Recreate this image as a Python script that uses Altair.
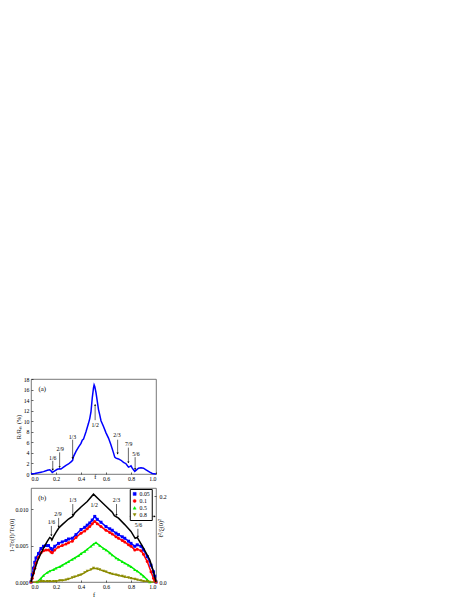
import altair as alt
import pandas as pd

FONT = "Liberation Serif"

# ---------------- Panel (a) data ----------------
a_f = [0.00, 0.03, 0.05, 0.08, 0.10, 0.12, 0.13, 0.15, 0.16, 0.17, 0.18, 0.19, 0.21, 0.23, 0.24,
       0.26, 0.28, 0.30, 0.32, 0.333, 0.34, 0.36, 0.38, 0.40, 0.41, 0.42, 0.44, 0.46, 0.47, 0.48,
       0.49, 0.50, 0.505, 0.51, 0.52, 0.53, 0.54, 0.55, 0.56, 0.58, 0.60, 0.62, 0.64, 0.66, 0.67,
       0.68, 0.70, 0.72, 0.74, 0.76, 0.78, 0.79, 0.80, 0.81, 0.82, 0.83, 0.84, 0.86, 0.88, 0.90,
       0.92, 0.95, 0.97, 1.00]
a_r = [0.05, 0.1, 0.2, 0.35, 0.45, 0.6, 0.7, 0.8, 0.6, 0.3, 0.45, 0.6, 0.9, 1.0, 0.95,
       1.3, 1.65, 1.9, 2.3, 2.6, 3.3, 4.3, 5.1, 5.8, 6.4, 6.6, 8.0, 9.6, 10.5, 11.8,
       14.4, 16.3, 16.9, 16.6, 15.4, 13.8, 12.2, 11.2, 10.1, 9.0, 7.8, 6.8, 5.5, 4.0, 3.2,
       3.0, 2.85, 2.6, 2.2, 1.95, 1.3, 1.4, 1.55, 1.1, 0.8, 0.5, 0.7, 1.1, 1.2, 1.1,
       0.8, 0.35, 0.1, 0.0]

a_lab = ["1/6", "2/9", "1/3", "1/2", "2/3", "7/9", "5/6"]
a_lab_f = [0.174, 0.234, 0.331, 0.513, 0.688, 0.781, 0.839]
a_lab_y = [3.0, 4.7, 7.1, 9.3, 7.3, 5.6, 3.8]
a_arr_f = [0.174, 0.229, 0.333, 0.513, 0.693, 0.779, 0.833]
a_arr_from = [2.5, 4.1, 6.5, 10.2, 6.5, 5.0, 3.2]
a_arr_to = [0.8, 1.3, 3.0, 13.1, 3.9, 2.2, 0.9]
a_arr_head = ["triangle-down"] * 3 + ["triangle-up"] + ["triangle-down"] * 3

# ---------------- Panel (b) data ----------------
b_f_black = [0.0, 0.01, 0.02, 0.05, 0.08, 0.10, 0.13, 0.15, 0.16, 0.167, 0.18, 0.20, 0.222, 0.25,
             0.30, 0.333, 0.35, 0.40, 0.45, 0.50, 0.55, 0.60, 0.65, 0.667, 0.70, 0.75, 0.80,
             0.833, 0.85, 0.90, 0.95, 0.98, 1.0]
b_black = [0.0, 0.012, 0.020, 0.048, 0.067, 0.079, 0.095, 0.104, 0.102, 0.098, 0.106, 0.116, 0.126,
           0.134, 0.147, 0.153, 0.161, 0.175, 0.188, 0.205, 0.191, 0.177, 0.163, 0.155, 0.149,
           0.134, 0.118, 0.102, 0.104, 0.079, 0.052, 0.024, 0.0]

b_f = [0.0, 0.01, 0.02, 0.03, 0.04, 0.06, 0.08, 0.10, 0.12, 0.14, 0.16, 0.17, 0.19, 0.22, 0.25,
       0.28, 0.30, 0.33, 0.36, 0.40, 0.43, 0.45, 0.47, 0.49, 0.51, 0.53, 0.56, 0.60, 0.63, 0.65,
       0.68, 0.70, 0.73, 0.75, 0.78, 0.80, 0.83, 0.85, 0.88, 0.90, 0.93, 0.96, 0.98, 0.99, 1.0]
b_005 = [0.0, 0.0010, 0.0019, 0.0027, 0.0033, 0.0039, 0.0046, 0.0049, 0.0050, 0.0050, 0.0046,
         0.0044, 0.0049, 0.0053, 0.0055, 0.0057, 0.0059, 0.0060, 0.0065, 0.0072, 0.0075, 0.0078,
         0.0081, 0.0085, 0.0090, 0.0086, 0.0082, 0.0076, 0.0073, 0.0071, 0.0067, 0.0065, 0.0062,
         0.0060, 0.0056, 0.0053, 0.0049, 0.0051, 0.0049, 0.0044, 0.0035, 0.0023, 0.0014, 0.0008, 0.0]
b_01 = [0.0, 0.0005, 0.0012, 0.0019, 0.0026, 0.0034, 0.0040, 0.0043, 0.0044, 0.0044, 0.0041,
        0.0040, 0.0044, 0.0048, 0.0050, 0.0052, 0.0054, 0.0056, 0.0061, 0.0067, 0.0070, 0.0073,
        0.0076, 0.0080, 0.0083, 0.0080, 0.0076, 0.0071, 0.0068, 0.0066, 0.0062, 0.0060, 0.0057,
        0.0055, 0.0051, 0.0049, 0.0044, 0.0045, 0.0043, 0.0038, 0.0028, 0.0014, 0.0005, 0.0002, 0.0]

b_f_05 = [0.05, 0.08, 0.10, 0.13, 0.15, 0.18, 0.20, 0.23, 0.25, 0.28, 0.30, 0.33, 0.35, 0.38, 0.40,
          0.43, 0.45, 0.48, 0.50, 0.52, 0.55, 0.58, 0.60, 0.63, 0.65, 0.68, 0.70, 0.73, 0.75, 0.78,
          0.80, 0.83, 0.85, 0.88, 0.90, 0.93, 0.95]
b_05 = [0.0, 0.0005, 0.0009, 0.0013, 0.0015, 0.0017, 0.0019, 0.0021, 0.0023, 0.0026, 0.0028,
        0.0031, 0.0033, 0.0036, 0.0039, 0.0042, 0.0045, 0.0049, 0.0052, 0.0054, 0.0050, 0.0046,
        0.0044, 0.0040, 0.0037, 0.0033, 0.0031, 0.0028, 0.0026, 0.0023, 0.0021, 0.0017, 0.0015,
        0.0011, 0.0008, 0.0003, 0.0]

b_f_08 = [0.0, 0.05, 0.08, 0.10, 0.13, 0.15, 0.18, 0.20, 0.23, 0.25, 0.28, 0.30, 0.33, 0.35, 0.38,
          0.40, 0.43, 0.45, 0.48, 0.50, 0.53, 0.55, 0.58, 0.60, 0.63, 0.65, 0.68, 0.70, 0.73, 0.75,
          0.78, 0.80, 0.83, 0.85, 0.88, 0.90, 0.93, 0.95, 1.0]
b_08 = [0.0, 0.0, 0.0001, 0.0001, 0.0001, 0.0001, 0.0001, 0.0001, 0.0002, 0.0002, 0.0003, 0.0004,
        0.0006, 0.0007, 0.0009, 0.0010, 0.0013, 0.0015, 0.0017, 0.0019, 0.0018, 0.0017, 0.0015,
        0.0014, 0.0012, 0.0011, 0.0010, 0.0009, 0.0008, 0.0007, 0.0006, 0.0005, 0.0004, 0.0003,
        0.0002, 0.0001, 0.0001, 0.0, 0.0]

series_names = ["0.05", "0.1", "0.5", "0.8"]
series_colors = ["#0000ff", "#ff0000", "#00ee00", "#8b8b00"]
series_shapes = ["square", "circle", "triangle-up", "triangle-down"]

b_lab = ["1/6", "2/9", "1/3", "1/2", "2/3", "5/6"]
b_lab_f = [0.163, 0.216, 0.334, 0.505, 0.684, 0.86]
b_lab_y = [0.0082, 0.0093, 0.0112, 0.0106, 0.0112, 0.0078]
b_arr_f = [0.163, 0.221, 0.334, 0.684, 0.855]
b_arr_from = [0.0077, 0.0088, 0.0107, 0.0107, 0.0073]
b_arr_to = [0.0064, 0.0076, 0.0092, 0.0092, 0.0062]

# ---------------- frames ----------------
df_a = pd.DataFrame({"f": a_f, "r": a_r})
df_a_lab = pd.DataFrame({"f": a_lab_f, "y": a_lab_y, "t": a_lab})
df_a_arr = pd.DataFrame({"f": a_arr_f, "y1": a_arr_from, "y2": a_arr_to, "h": a_arr_head})

rows = []
for name, fs, vs in [("0.05", b_f, b_005), ("0.1", b_f, b_01), ("0.5", b_f_05, b_05), ("0.8", b_f_08, b_08)]:
    for f, v in zip(fs, vs):
        rows.append({"f": f, "v": v, "s": name})
df_b = pd.DataFrame(rows)
df_black = pd.DataFrame({"f": b_f_black, "v": b_black})
df_b_lab = pd.DataFrame({"f": b_lab_f, "y": b_lab_y, "t": b_lab})
df_b_arr = pd.DataFrame({"f": b_arr_f, "y1": b_arr_from, "y2": b_arr_to})

W = 125
HA = 95
HB = 94
GAP = 14
FS = 5.8
TFS = 6.4

xscale = alt.Scale(domain=[0, 1], nice=False)
xlabels = [round(i * 0.2, 1) for i in range(6)]

# ---------------- Panel (a) ----------------
ya = alt.Scale(domain=[0, 18], nice=False)
xa_axis = alt.Axis(values=xlabels, format=".1f", title="f", titleX=W * 0.51, titleY=1,
                   titleBaseline="top", domain=False, offset=-2, tickSize=2, labelPadding=1,
                   labelOverlap=False, labelFontSize=FS, titleFontSize=TFS,
                   titleFontWeight="normal", grid=False)
ya_axis = alt.Axis(values=list(range(0, 19, 2)), domain=False, offset=-2, tickSize=2, labelPadding=2,
                   labelOverlap=False, title="R/R\u2099 (%)", titlePadding=1.5, labelFontSize=FS,
                   titleFontSize=TFS, titleFontWeight="normal", grid=False)


def xa(field):
    return alt.X(field, scale=xscale, axis=xa_axis)


def ya_(field):
    return alt.Y(field, scale=ya, axis=ya_axis)


a_line = alt.Chart(df_a).mark_line(color="#0000ff", strokeWidth=1.5).encode(
    x=xa("f:Q"), y=ya_("r:Q"))
a_rule = alt.Chart(df_a_arr).mark_rule(color="black", strokeWidth=0.6).encode(
    x=xa("f:Q"), y=ya_("y1:Q"), y2="y2:Q")
a_head = alt.Chart(df_a_arr).mark_point(filled=True, color="black", size=5, opacity=1).encode(
    x=xa("f:Q"), y=ya_("y2:Q"), shape=alt.Shape("h:N", scale=None))
a_text = alt.Chart(df_a_lab).mark_text(fontSize=FS, font=FONT, color="black").encode(
    x=xa("f:Q"), y=ya_("y:Q"), text="t:N")
a_tag = alt.Chart(pd.DataFrame({"f": [0.09], "y": [16.1], "t": ["(a)"]})).mark_text(
    fontSize=6.8, font=FONT, color="black").encode(x=xa("f:Q"), y=ya_("y:Q"), text="t:N")

panel_a = alt.layer(a_line, a_rule, a_head, a_text, a_tag).properties(width=W, height=HA)

# ---------------- Panel (b) ----------------
yb = alt.Scale(domain=[0, 0.0129], nice=False)
yr = alt.Scale(domain=[0, 0.2195], nice=False)
xb_axis = alt.Axis(values=xlabels, format=".1f", title="f", domain=False, offset=-2,
                   tickSize=2, labelPadding=1, titlePadding=3, labelOverlap=False,
                   labelFontSize=FS, titleFontSize=TFS, titleFontWeight="normal", grid=False)
yb_axis = alt.Axis(values=[0, 0.005, 0.010], format=".3f", domain=False, offset=-2, tickSize=2,
                   labelPadding=3, labelOverlap=False, title="1-Tc(f)/Tc(0)", titlePadding=0.5,
                   labelFontSize=FS, titleFontSize=TFS, titleFontWeight="normal", grid=False)
yr_axis = alt.Axis(orient="right", values=[0, 0.2], format=".1f", domain=False, offset=-2,
                   tickSize=2, labelPadding=3, labelOverlap=False,
                   title="\u2113\u00b2/\u03be(0)\u00b2", titleAngle=270,
                   titleX=6, titleY=40, titleBaseline="middle", labelFontSize=FS,
                   titleFontSize=TFS, titleFontWeight="normal", grid=False)


def xb(field):
    return alt.X(field, scale=xscale, axis=xb_axis)


def yb_(field):
    return alt.Y(field, scale=yb, axis=yb_axis)


# legend coordinates are relative to the top-level group (panel a origin)
leg = alt.Legend(title=None, orient="none", legendX=W * 0.79, legendY=HA + GAP + 1,
                 strokeColor="black", fillColor="white", padding=2, rowPadding=0,
                 labelFontSize=FS, labelFont=FONT, symbolSize=9, symbolStrokeWidth=0.5,
                 labelOffset=2, labelOverlap=False)
cscale = alt.Scale(domain=series_names, range=series_colors)
sscale = alt.Scale(domain=series_names, range=series_shapes)

b_lines = alt.Chart(df_b).mark_line(strokeWidth=1.5).encode(
    x=xb("f:Q"), y=yb_("v:Q"),
    color=alt.Color("s:N", scale=cscale, legend=leg, sort=series_names),
)
b_pts = alt.Chart(df_b).mark_point(filled=True, size=9, opacity=1).encode(
    x=xb("f:Q"), y=yb_("v:Q"),
    color=alt.Color("s:N", scale=cscale, legend=leg, sort=series_names),
    shape=alt.Shape("s:N", scale=sscale, legend=leg, sort=series_names),
)
b_rule = alt.Chart(df_b_arr).mark_rule(color="black", strokeWidth=0.6).encode(
    x=xb("f:Q"), y=yb_("y1:Q"), y2="y2:Q")
b_head = alt.Chart(df_b_arr).mark_point(filled=True, color="black", size=5, opacity=1,
                                        shape="triangle-down").encode(
    x=xb("f:Q"), y=yb_("y2:Q"))
b_text = alt.Chart(df_b_lab).mark_text(fontSize=FS, font=FONT, color="black").encode(
    x=xb("f:Q"), y=yb_("y:Q"), text="t:N")
b_tag = alt.Chart(pd.DataFrame({"f": [0.09], "y": [0.0115], "t": ["(b)"]})).mark_text(
    fontSize=6.8, font=FONT, color="black").encode(x=xb("f:Q"), y=yb_("y:Q"), text="t:N")
b_ptr = alt.Chart(pd.DataFrame({"f": [0.79], "f2": [0.99], "y": [0.0090]})).mark_rule(
    color="black", strokeWidth=0.6).encode(x=xb("f:Q"), x2="f2:Q", y=yb_("y:Q"))
b_ptr_head = alt.Chart(pd.DataFrame({"f": [0.99], "y": [0.0090]})).mark_point(
    filled=True, color="black", size=5, opacity=1, shape="triangle-right").encode(
    x=xb("f:Q"), y=yb_("y:Q"))

left = alt.layer(b_lines, b_pts, b_rule, b_head, b_text, b_tag, b_ptr, b_ptr_head)
b_black_line = alt.Chart(df_black).mark_line(color="black", strokeWidth=1.5).encode(
    x=xb("f:Q"),
    y=alt.Y("v:Q", scale=yr, axis=yr_axis),
)
panel_b = alt.layer(left, b_black_line).resolve_scale(y="independent").properties(width=W, height=HB)

chart = alt.vconcat(panel_a, panel_b, spacing=GAP, bounds="flush").properties(
    padding={"left": 0, "top": 367, "right": 0, "bottom": 0}
).configure_view(stroke="#555555", strokeWidth=0.8).configure_axis(
    labelFont=FONT, titleFont=FONT, labelColor="black", titleColor="black", tickColor="black",
    tickWidth=0.6, labelOverlap=False
).configure_text(font=FONT)

chart.save("out.html", embed_options={"renderer": "svg", "actions": False})
